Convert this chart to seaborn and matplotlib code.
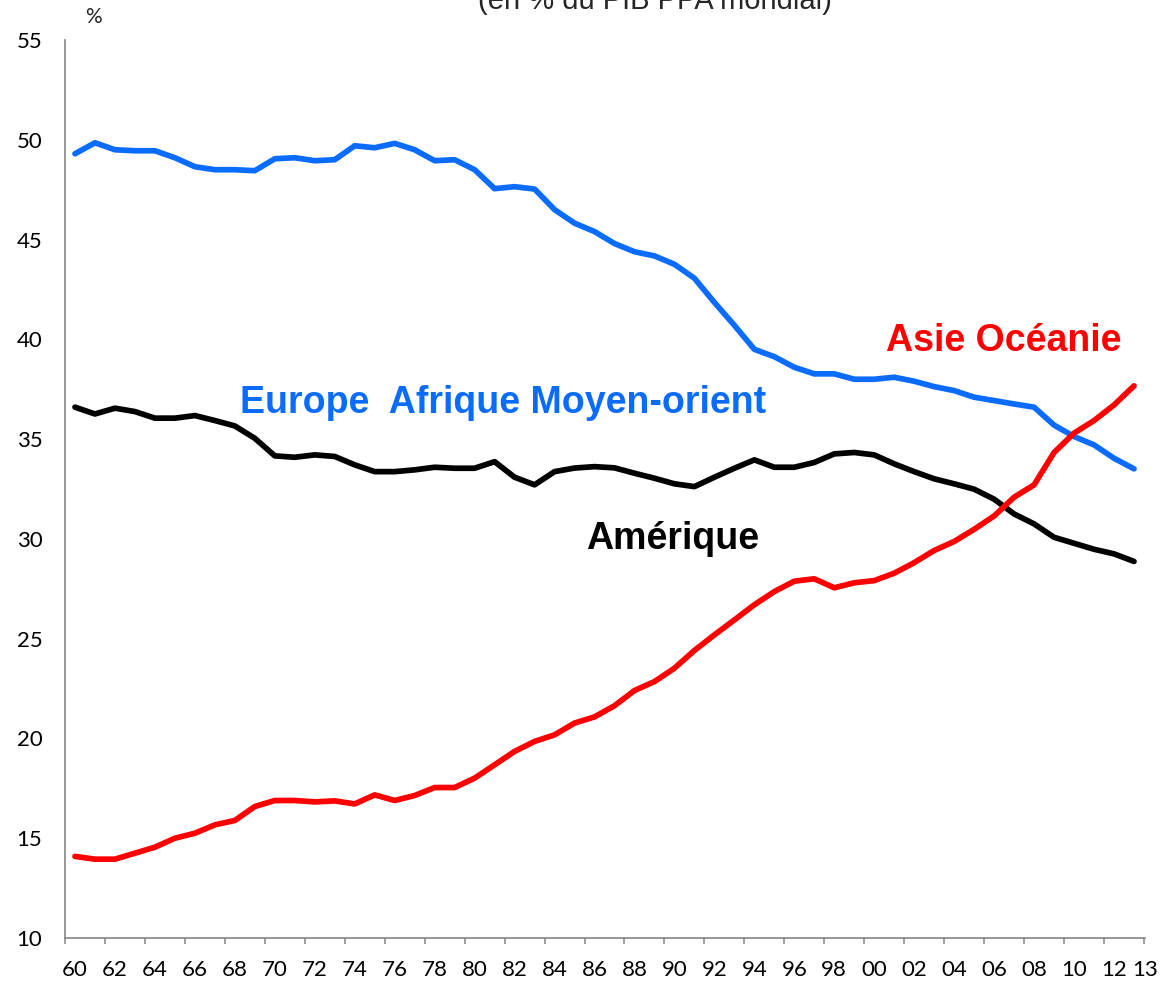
import matplotlib
matplotlib.use("Agg")
import matplotlib.pyplot as plt
import pandas as pd
import seaborn as sns

# ---- data ----
years = list(range(1960, 2014))
europe = [49.3, 49.85, 49.5, 49.45, 49.45, 49.1, 48.65, 48.5, 48.5, 48.45,
          49.05, 49.1, 48.95, 49.0, 49.7, 49.6, 49.82, 49.5, 48.95, 49.0,
          48.5, 47.55, 47.65, 47.53, 46.5, 45.82, 45.4, 44.8, 44.39, 44.18,
          43.76, 43.06, 41.85, 40.7, 39.5, 39.13, 38.6, 38.27, 38.27, 38.0,
          38.0, 38.1, 37.9, 37.63, 37.43, 37.1, 36.93, 36.76, 36.6, 35.7,
          35.13, 34.71, 34.04, 33.51]
amerique = [36.6, 36.26, 36.55, 36.38, 36.05, 36.05, 36.18, 35.93, 35.66, 35.04,
            34.16, 34.09, 34.21, 34.13, 33.71, 33.37, 33.37, 33.46, 33.59, 33.54,
            33.54, 33.87, 33.09, 32.71, 33.37, 33.55, 33.62, 33.56, 33.29, 33.04,
            32.76, 32.62, 33.09, 33.54, 33.96, 33.59, 33.59, 33.83, 34.26, 34.33,
            34.21, 33.76, 33.37, 33.01, 32.76, 32.49, 31.99, 31.25, 30.75, 30.08,
            29.78, 29.48, 29.25, 28.87]
asie = [14.09, 13.95, 13.95, 14.25, 14.55, 15.0, 15.25, 15.67, 15.89, 16.59,
        16.89, 16.89, 16.82, 16.87, 16.72, 17.17, 16.89, 17.14, 17.54, 17.54,
        18.01, 18.68, 19.35, 19.85, 20.18, 20.77, 21.08, 21.64, 22.4, 22.85,
        23.52, 24.41, 25.19, 25.94, 26.7, 27.36, 27.88, 28.0, 27.55, 27.8,
        27.91, 28.28, 28.81, 29.42, 29.87, 30.48, 31.15, 32.09, 32.71, 34.33,
        35.3, 35.93, 36.71, 37.67]
series_names = ["Europe  Afrique Moyen-orient", "Amérique", "Asie Océanie"]
series_colors = ["#0A6CFF", "#000000", "#FF0000"]
x_tick_pos = [1960, 1962, 1964, 1966, 1968, 1970, 1972, 1974, 1976, 1978,
              1980, 1982, 1984, 1986, 1988, 1990, 1992, 1994, 1996, 1998,
              2000, 2002, 2004, 2006, 2008, 2010, 2012, 2013.55]
x_tick_labels = ["60", "62", "64", "66", "68", "70", "72", "74", "76", "78",
                 "80", "82", "84", "86", "88", "90", "92", "94", "96", "98",
                 "00", "02", "04", "06", "08", "10", "12", "13"]
y_ticks = [10, 15, 20, 25, 30, 35, 40, 45, 50, 55]
title = "(en % du PIB PPA mondial)"

# ---- style ----
sns.set_style("white")
plt.rcParams['font.family'] = ['Lato', 'DejaVu Sans']

W, H = 1162, 984
fig = plt.figure(figsize=(W / 100, H / 100), dpi=100)
ax = fig.add_axes([65 / W, 46 / H, 1080 / W, 898 / H])

df = pd.DataFrame({
    "annee": years * 3,
    "valeur": europe + amerique + asie,
    "serie": [n for n in series_names for _ in years],
})
sns.lineplot(data=df, x="annee", y="valeur", hue="serie",
             hue_order=series_names,
             palette=dict(zip(series_names, series_colors)),
             linewidth=4.1, legend=False, ax=ax, sort=False,
             solid_capstyle="round", solid_joinstyle="round")

ax.set_xlim(1959.5, 2013.5)
ax.set_ylim(10, 55)
ax.set_xlabel("")
ax.set_ylabel("")
ax.grid(False)

grey = "#868686"
for s in ["top", "right"]:
    ax.spines[s].set_visible(False)
for s in ["left", "bottom"]:
    ax.spines[s].set_color(grey)
    ax.spines[s].set_linewidth(1.2)

ax.set_yticks(y_ticks)
ax.set_yticklabels([str(v) for v in y_ticks])
ax.tick_params(axis="y", length=4.3, width=1.1, color=grey, pad=12,
               labelsize=16, labelcolor="black")

ax.set_xticks(x_tick_pos)
ax.set_xticklabels(x_tick_labels)
ax.set_xticks([1959.5 + 2 * k for k in range(28)], minor=True)
ax.tick_params(axis="x", which="major", length=0, pad=16, labelsize=16,
               labelcolor="black")
ax.tick_params(axis="x", which="minor", length=4.3, width=1.1, color=grey,
               direction="out")
ax.tick_params(axis="x", which="minor", bottom=True)

# series labels
lab_font = dict(family=["Liberation Sans", "DejaVu Sans"], fontweight="bold",
                fontsize=27, ha="left", va="baseline")
ax.text(1968.25, 36.31, series_names[0], color=series_colors[0], **lab_font)
ax.text(2000.6, 39.42, series_names[2], color=series_colors[2], **lab_font)
ax.text(1985.6, 29.5, series_names[1], color=series_colors[1], **lab_font)

fig.text(93 / W, 1 - 17 / H, "%", ha="center", va="center", fontsize=15)
fig.text(655 / W, 1 - 9 / H, title, ha="center", va="baseline", fontsize=21,
         family=["Liberation Sans", "DejaVu Sans"])

fig.savefig("out.png", dpi=100)
